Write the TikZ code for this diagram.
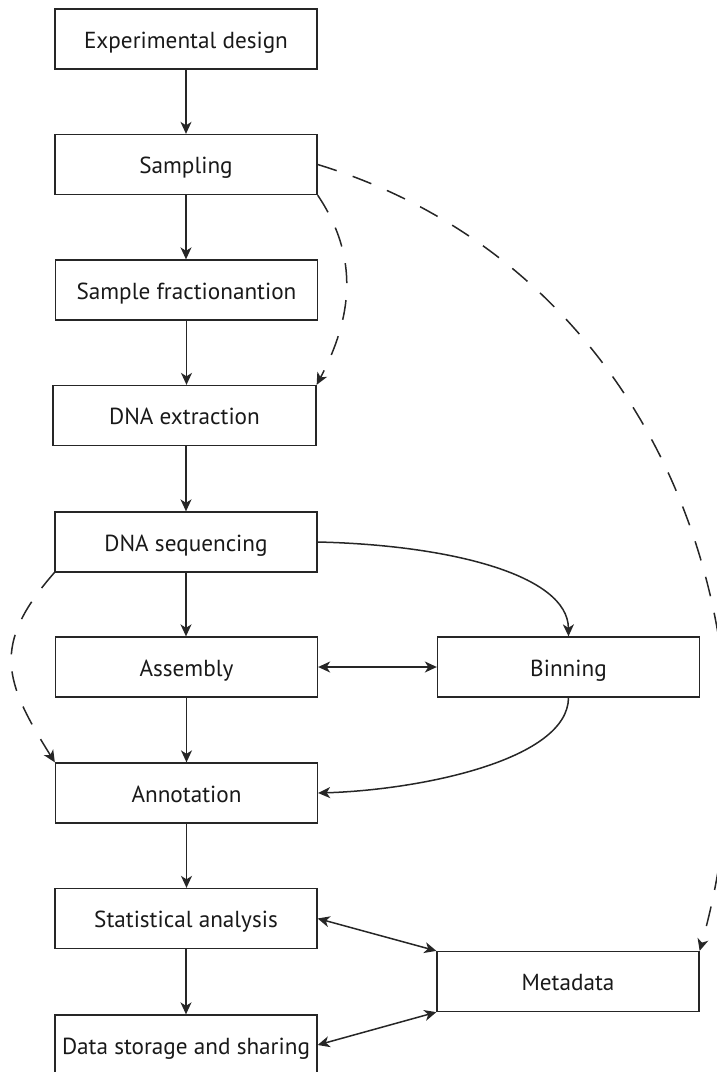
\documentclass[tikz,border=0pt]{standalone}
\usepackage{fontspec}
\setmainfont{PT Sans}
\usetikzlibrary{arrows.meta}
\begin{document}
\begin{tikzpicture}[x=1pt,y=-1pt,
  box/.style={draw=black!85,line width=1.3pt,minimum width=262pt,minimum height=60pt,inner sep=0pt,
    text height=22pt,text depth=4pt,
    font=\fontsize{23.2}{27}\selectfont,text=black!90},
  conn/.style={draw=black!85,line width=1.5pt,-{Stealth[length=12pt,width=11pt,inset=3.5pt]}},
  biconn/.style={draw=black!85,line width=1.5pt,{Stealth[length=12pt,width=11pt,inset=3.5pt]}-{Stealth[length=12pt,width=11pt,inset=3.5pt]}},
  dconn/.style={conn,dash pattern=on 20pt off 17pt}]
\useasboundingbox (0,0) rectangle (716,1072);
\node[box] (exp) at (186,39) {Experimental design};
\node[box] (samp) at (186,164.5) {Sampling};
\node[box] (frac) at (186.5,290) {Sample fractionantion};
\node[box,minimum width=263pt] (ext) at (184.5,415.5) {DNA extraction};
\node[box] (seq) at (186,542) {DNA sequencing};
\node[box] (asm) at (186.5,667) {Assembly};
\node[box] (bin) at (568.5,667) {Binning};
\node[box] (ann) at (186.5,793) {Annotation};
\node[box] (stat) at (186,918.5) {Statistical analysis};
\node[box] (meta) at (568,981.5) {Metadata};
\node[box] (store) at (186,1045) {Data storage and sharing};
\draw[conn] (exp.south) -- (exp.south |- samp.north);
\draw[conn] (samp.south) -- (samp.south |- frac.north);
\draw[conn] (frac.south) -- (frac.south |- ext.north);
\draw[conn] (ext.south -| seq.south) -- (seq.north);
\draw[conn] (seq.south) -- (seq.south |- asm.north);
\draw[conn] (asm.south) -- (asm.south |- ann.north);
\draw[conn] (ann.south) -- (ann.south |- stat.north);
\draw[conn] (stat.south) -- (stat.south |- store.north);
\draw[biconn] (asm.east) -- (bin.west);
\draw[conn] (seq.east) .. controls (450,545) and (568,575) .. (bin.north);
\draw[conn] (bin.south) .. controls (568,760) and (420,790) .. (ann.east);
\draw[biconn] (stat.east) -- (meta.north west);
\draw[biconn] (store.east) -- (meta.south west);
\draw[dconn] (samp.south east) .. controls (360,258) and (352,318) .. (ext.north east);
\draw[dconn] (samp.east) .. controls (648,265) and (792,622) .. (meta.north east);
\draw[dconn] (seq.south west) .. controls (-9,645) and (4,681) .. (ann.north west);
\end{tikzpicture}
\end{document}
